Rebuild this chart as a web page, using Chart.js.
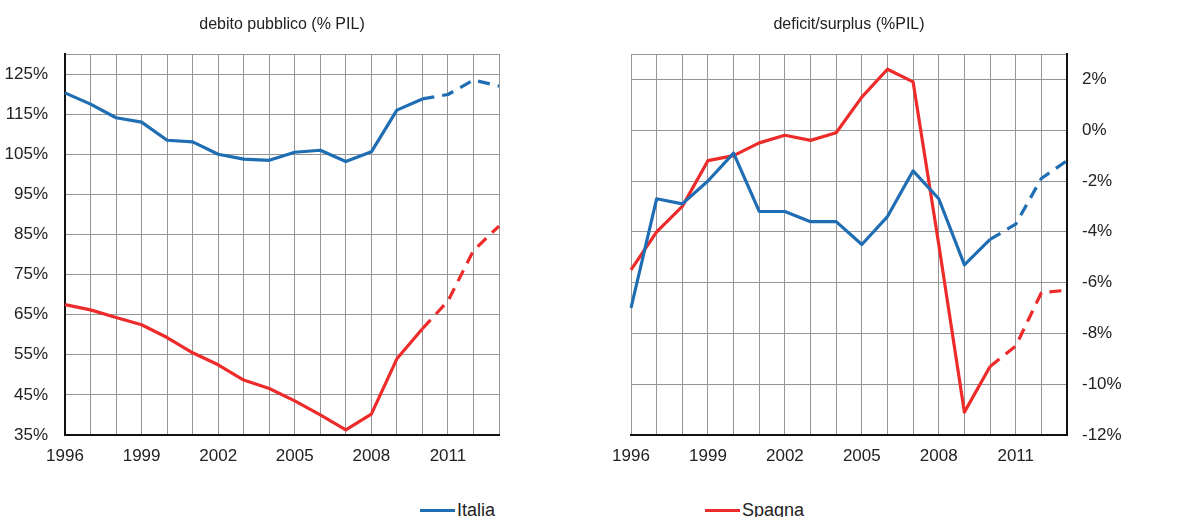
<!DOCTYPE html>
<html>
<head>
<meta charset="utf-8">
<script src="https://cdn.jsdelivr.net/npm/chart.js@4/dist/chart.umd.min.js"></script>
<style>
  html, body { margin: 0; padding: 0; background: #fff; width: 1200px; height: 517px; overflow: hidden; }
  .box { position: absolute; top: 0; width: 600px; height: 480px; }
  #leftBox { left: 0; }
  #rightBox { left: 600px; }
  .legend { position: absolute; top: 500px; font-family: 'Liberation Sans', sans-serif; font-size: 18px; color: #222; white-space: nowrap; }
  .legend .sw { display: inline-block; width: 35px; height: 3px; vertical-align: middle; margin-right: 2px; position: relative; top: -1px; }
</style>
</head>
<body>
<div class="box" id="leftBox"><canvas id="left"></canvas></div>
<div class="box" id="rightBox"><canvas id="right"></canvas></div>
<div class="legend" style="left:420px"><span class="sw" style="background:#1f6db3"></span>Italia</div>
<div class="legend" style="left:705px"><span class="sw" style="background:#ee2b2b"></span>Spagna</div>
<script>
const years = ['1996','1997','1998','1999','2000','2001','2002','2003','2004','2005','2006','2007','2008','2009','2010','2011','2012','2013'];
const xTickLabels = ['1996','1999','2002','2005','2008','2011'];
const seriesNames = ['Italia', 'Spagna'];
const debtItalia = [120.3,117.5,114.1,113.0,108.5,108.1,105.0,103.8,103.5,105.5,106.0,103.2,105.6,116.0,118.8,119.9,123.5,122.0];
const debtSpagna = [67.5,66.2,64.3,62.5,59.3,55.5,52.5,48.7,46.6,43.5,40.0,36.3,40.2,54.0,61.5,68.4,81.0,87.1];
const balItalia = [-7.0,-2.7,-2.9,-2.0,-0.9,-3.2,-3.2,-3.6,-3.6,-4.5,-3.4,-1.6,-2.7,-5.3,-4.3,-3.7,-1.9,-1.2];
const balSpagna = [-5.5,-4.0,-3.0,-1.2,-1.0,-0.5,-0.2,-0.4,-0.1,1.3,2.4,1.9,-4.5,-11.1,-9.3,-8.5,-6.4,-6.3];
const leftYTicks = [35,45,55,65,75,85,95,105,115,125];
const rightYTicks = [-12,-10,-8,-6,-4,-2,0,2];
const projectionFrom = '2010';

const FONT = "'Liberation Sans', sans-serif";
const BLUE = '#1f6db3';
const RED = '#ee2b2b';
const GRID = '#959595';
const TEXT = '#222';
const dashIdx = years.indexOf(projectionFrom);

function mkDataset(label, data, color) {
  return {
    label, data, xAxisID: 'x', yAxisID: 'y',
    borderColor: color, backgroundColor: color,
    borderWidth: 3.2, pointRadius: 0, tension: 0,
    borderCapStyle: 'butt', borderJoinStyle: 'round',
    segment: { borderDash: ctx => ctx.p0DataIndex >= dashIdx ? [12, 8] : undefined }
  };
}

function xScale() {
  return {
    type: 'category',
    offset: false,
    grid: { color: GRID, lineWidth: 1, drawTicks: false },
    border: { color: '#111', width: 2 },
    ticks: {
      autoSkip: false, maxRotation: 0, padding: 11,
      color: TEXT, font: { family: FONT, size: 17 },
      callback: function (v) { const l = this.getLabelForValue(v); return xTickLabels.includes(l) ? l : ''; }
    },
    afterFit: s => { s.height = 45; }
  };
}

// top axis carrying only the panel title, centred over the plot area
function titleScale(text) {
  return {
    type: 'category', position: 'top', offset: false,
    grid: { display: false, drawTicks: false },
    border: { display: false },
    ticks: { display: false },
    title: { display: true, text, color: TEXT, font: { family: FONT, size: 16, weight: 'normal' }, padding: { top: 15, bottom: 0 } },
    afterFit: s => { s.height = 54; }
  };
}

function yScale(pos, min, max, tickVals, width, pad) {
  return {
    position: pos, min, max,
    grid: { color: GRID, lineWidth: 1, drawTicks: false },
    border: { color: '#111', width: 2 },
    afterBuildTicks: s => { s.ticks = tickVals.concat([max]).map(v => ({ value: v })); },
    ticks: {
      padding: pad, color: TEXT, font: { family: FONT, size: 17 },
      callback: v => (tickVals.includes(v) ? v + '%' : '')
    },
    afterFit: s => { s.width = width; }
  };
}

new Chart(document.getElementById('left'), {
  type: 'line',
  data: { labels: years, datasets: [mkDataset(seriesNames[0], debtItalia, BLUE), mkDataset(seriesNames[1], debtSpagna, RED)] },
  options: {
    responsive: true, maintainAspectRatio: false, animation: false,
    layout: { padding: { left: 0, right: 101, top: 0, bottom: 0 } },
    plugins: { legend: { display: false }, tooltip: { enabled: false }, title: { display: false } },
    scales: { x: xScale(), xt: titleScale('debito pubblico (% PIL)'), y: yScale('left', 35, 130, leftYTicks, 65, 17) }
  }
});

new Chart(document.getElementById('right'), {
  type: 'line',
  data: { labels: years, datasets: [mkDataset(seriesNames[0], balItalia, BLUE), mkDataset(seriesNames[1], balSpagna, RED)] },
  options: {
    responsive: true, maintainAspectRatio: false, animation: false,
    layout: { padding: { left: 31, right: 0, top: 0, bottom: 0 } },
    plugins: { legend: { display: false }, tooltip: { enabled: false }, title: { display: false } },
    scales: { x: xScale(), xt: titleScale('deficit/surplus (%PIL)'), y: yScale('right', -12, 3, rightYTicks, 133, 15) }
  }
});
</script>
</body>
</html>
